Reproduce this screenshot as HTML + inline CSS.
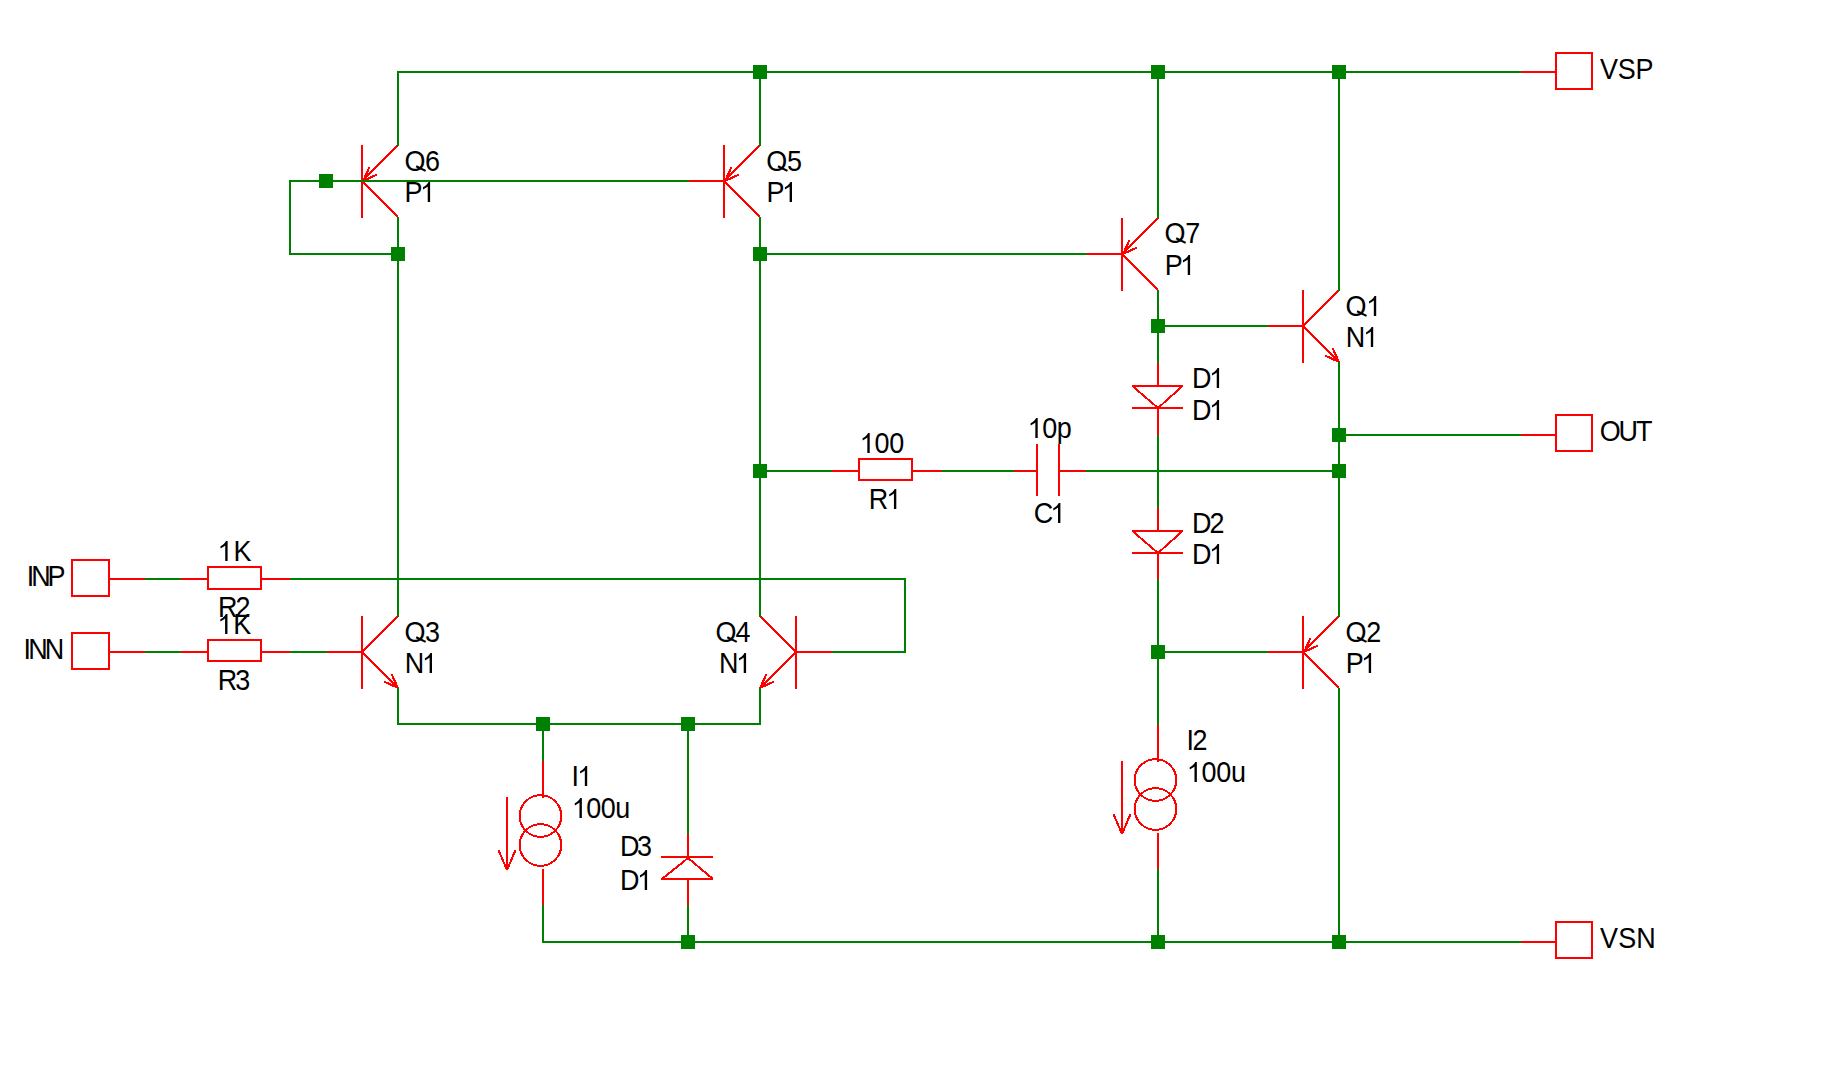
<!DOCTYPE html>
<html><head><meta charset="utf-8"><style>
html,body{margin:0;padding:0;background:#fff;width:1824px;height:1067px;overflow:hidden}
svg{position:absolute;left:0;top:0;display:block}
text{font-family:"Liberation Sans",sans-serif;font-size:29.0px;fill:#000}
</style></head><body>
<svg width="1824" height="1067" viewBox="0 0 1824 1067">
<rect x="0" y="0" width="1824" height="1067" fill="#fff"/>
<g shape-rendering="crispEdges">
<rect x="361" y="145" width="2" height="73" fill="#ff0000"/>
<line x1="362" y1="181" x2="398" y2="145" stroke="#ff0000" stroke-width="2"/>
<line x1="362" y1="181" x2="398" y2="217" stroke="#ff0000" stroke-width="2"/>
<line x1="363" y1="181" x2="369.34" y2="167.41" stroke="#ff0000" stroke-width="2"/>
<line x1="363" y1="181" x2="376.59" y2="174.66" stroke="#ff0000" stroke-width="2"/>
<rect x="723" y="145" width="2" height="73" fill="#ff0000"/>
<line x1="724" y1="181" x2="760" y2="145" stroke="#ff0000" stroke-width="2"/>
<line x1="724" y1="181" x2="760" y2="217" stroke="#ff0000" stroke-width="2"/>
<line x1="725" y1="181" x2="731.34" y2="167.41" stroke="#ff0000" stroke-width="2"/>
<line x1="725" y1="181" x2="738.59" y2="174.66" stroke="#ff0000" stroke-width="2"/>
<rect x="1121" y="218" width="2" height="73" fill="#ff0000"/>
<line x1="1122" y1="254" x2="1158" y2="218" stroke="#ff0000" stroke-width="2"/>
<line x1="1122" y1="254" x2="1158" y2="290" stroke="#ff0000" stroke-width="2"/>
<line x1="1123" y1="254" x2="1129.34" y2="240.41" stroke="#ff0000" stroke-width="2"/>
<line x1="1123" y1="254" x2="1136.59" y2="247.66" stroke="#ff0000" stroke-width="2"/>
<rect x="1302" y="290" width="2" height="73" fill="#ff0000"/>
<line x1="1303" y1="326" x2="1339" y2="290" stroke="#ff0000" stroke-width="2"/>
<line x1="1303" y1="326" x2="1339" y2="362" stroke="#ff0000" stroke-width="2"/>
<line x1="1339" y1="362" x2="1325.41" y2="355.66" stroke="#ff0000" stroke-width="2"/>
<line x1="1339" y1="362" x2="1332.66" y2="348.41" stroke="#ff0000" stroke-width="2"/>
<rect x="1302" y="616" width="2" height="73" fill="#ff0000"/>
<line x1="1303" y1="652" x2="1339" y2="616" stroke="#ff0000" stroke-width="2"/>
<line x1="1303" y1="652" x2="1339" y2="688" stroke="#ff0000" stroke-width="2"/>
<line x1="1304" y1="652" x2="1310.34" y2="638.41" stroke="#ff0000" stroke-width="2"/>
<line x1="1304" y1="652" x2="1317.59" y2="645.66" stroke="#ff0000" stroke-width="2"/>
<rect x="361" y="616" width="2" height="73" fill="#ff0000"/>
<line x1="362" y1="652" x2="398" y2="616" stroke="#ff0000" stroke-width="2"/>
<line x1="362" y1="652" x2="398" y2="688" stroke="#ff0000" stroke-width="2"/>
<line x1="398" y1="688" x2="384.41" y2="681.66" stroke="#ff0000" stroke-width="2"/>
<line x1="398" y1="688" x2="391.66" y2="674.41" stroke="#ff0000" stroke-width="2"/>
<rect x="795" y="616" width="2" height="73" fill="#ff0000"/>
<line x1="796" y1="652" x2="760" y2="616" stroke="#ff0000" stroke-width="2"/>
<line x1="796" y1="652" x2="760" y2="688" stroke="#ff0000" stroke-width="2"/>
<line x1="760" y1="688" x2="766.34" y2="674.41" stroke="#ff0000" stroke-width="2"/>
<line x1="760" y1="688" x2="773.59" y2="681.66" stroke="#ff0000" stroke-width="2"/>
<rect x="689" y="180" width="34" height="2" fill="#ff0000"/>
<rect x="1087" y="253" width="34" height="2" fill="#ff0000"/>
<rect x="1268" y="325" width="34" height="2" fill="#ff0000"/>
<rect x="1268" y="651" width="34" height="2" fill="#ff0000"/>
<rect x="327" y="651" width="34" height="2" fill="#ff0000"/>
<rect x="797" y="651" width="35" height="2" fill="#ff0000"/>
<rect x="1157" y="363" width="2" height="23" fill="#ff0000"/>
<rect x="1132" y="385" width="51" height="2" fill="#ff0000"/>
<line x1="1133" y1="386.5" x2="1158" y2="408" stroke="#ff0000" stroke-width="2"/>
<line x1="1182" y1="386.5" x2="1158" y2="408" stroke="#ff0000" stroke-width="2"/>
<rect x="1132" y="407" width="51" height="2" fill="#ff0000"/>
<rect x="1157" y="409" width="2" height="26" fill="#ff0000"/>
<rect x="1157" y="508" width="2" height="23" fill="#ff0000"/>
<rect x="1132" y="530" width="51" height="2" fill="#ff0000"/>
<line x1="1133" y1="531.5" x2="1158" y2="553" stroke="#ff0000" stroke-width="2"/>
<line x1="1182" y1="531.5" x2="1158" y2="553" stroke="#ff0000" stroke-width="2"/>
<rect x="1132" y="552" width="51" height="2" fill="#ff0000"/>
<rect x="1157" y="554" width="2" height="26" fill="#ff0000"/>
<rect x="687" y="834" width="2" height="23" fill="#ff0000"/>
<rect x="661" y="856" width="52" height="2" fill="#ff0000"/>
<line x1="688" y1="858" x2="662" y2="879" stroke="#ff0000" stroke-width="2"/>
<line x1="688" y1="858" x2="713" y2="879" stroke="#ff0000" stroke-width="2"/>
<rect x="661" y="878" width="52" height="2" fill="#ff0000"/>
<rect x="687" y="880" width="2" height="25" fill="#ff0000"/>
<rect x="542" y="761" width="2" height="37" fill="#ff0000"/>
<circle cx="540.5" cy="816" r="20.8" fill="none" stroke="#ff0000" stroke-width="2"/>
<circle cx="540.5" cy="845" r="20.8" fill="none" stroke="#ff0000" stroke-width="2"/>
<rect x="542" y="869" width="2" height="36" fill="#ff0000"/>
<rect x="506" y="797" width="2" height="73" fill="#ff0000"/>
<line x1="507" y1="870" x2="498.5" y2="850" stroke="#ff0000" stroke-width="2"/>
<line x1="507" y1="870" x2="515.5" y2="850" stroke="#ff0000" stroke-width="2"/>
<rect x="1157" y="725" width="2" height="37" fill="#ff0000"/>
<circle cx="1155.5" cy="780" r="20.8" fill="none" stroke="#ff0000" stroke-width="2"/>
<circle cx="1155.5" cy="809" r="20.8" fill="none" stroke="#ff0000" stroke-width="2"/>
<rect x="1157" y="833" width="2" height="36" fill="#ff0000"/>
<rect x="1121" y="761" width="2" height="73" fill="#ff0000"/>
<line x1="1122" y1="834" x2="1113.5" y2="814" stroke="#ff0000" stroke-width="2"/>
<line x1="1122" y1="834" x2="1130.5" y2="814" stroke="#ff0000" stroke-width="2"/>
<rect x="181" y="578" width="26" height="2" fill="#ff0000"/>
<rect x="207" y="566" width="2" height="24" fill="#ff0000"/>
<rect x="260" y="566" width="2" height="24" fill="#ff0000"/>
<rect x="207" y="566" width="55" height="2" fill="#ff0000"/>
<rect x="207" y="588" width="55" height="2" fill="#ff0000"/>
<rect x="262" y="578" width="28" height="2" fill="#ff0000"/>
<rect x="181" y="651" width="26" height="2" fill="#ff0000"/>
<rect x="207" y="639" width="2" height="23" fill="#ff0000"/>
<rect x="260" y="639" width="2" height="23" fill="#ff0000"/>
<rect x="207" y="639" width="55" height="2" fill="#ff0000"/>
<rect x="207" y="660" width="55" height="2" fill="#ff0000"/>
<rect x="262" y="651" width="28" height="2" fill="#ff0000"/>
<rect x="832" y="470" width="26" height="2" fill="#ff0000"/>
<rect x="858" y="458" width="2" height="23" fill="#ff0000"/>
<rect x="911" y="458" width="2" height="23" fill="#ff0000"/>
<rect x="858" y="458" width="55" height="2" fill="#ff0000"/>
<rect x="858" y="479" width="55" height="2" fill="#ff0000"/>
<rect x="913" y="470" width="29" height="2" fill="#ff0000"/>
<rect x="1014" y="470" width="22" height="2" fill="#ff0000"/>
<rect x="1036" y="444" width="2" height="52" fill="#ff0000"/>
<rect x="1058" y="444" width="2" height="52" fill="#ff0000"/>
<rect x="1060" y="470" width="26" height="2" fill="#ff0000"/>
<rect x="71" y="559" width="2" height="38" fill="#ff0000"/>
<rect x="108" y="559" width="2" height="38" fill="#ff0000"/>
<rect x="71" y="559" width="39" height="2" fill="#ff0000"/>
<rect x="71" y="595" width="39" height="2" fill="#ff0000"/>
<rect x="71" y="632" width="2" height="38" fill="#ff0000"/>
<rect x="108" y="632" width="2" height="38" fill="#ff0000"/>
<rect x="71" y="632" width="39" height="2" fill="#ff0000"/>
<rect x="71" y="668" width="39" height="2" fill="#ff0000"/>
<rect x="110" y="578" width="35" height="2" fill="#ff0000"/>
<rect x="110" y="651" width="35" height="2" fill="#ff0000"/>
<rect x="1555" y="52" width="2" height="38" fill="#ff0000"/>
<rect x="1591" y="52" width="2" height="38" fill="#ff0000"/>
<rect x="1555" y="52" width="38" height="2" fill="#ff0000"/>
<rect x="1555" y="88" width="38" height="2" fill="#ff0000"/>
<rect x="1555" y="414" width="2" height="38" fill="#ff0000"/>
<rect x="1591" y="414" width="2" height="38" fill="#ff0000"/>
<rect x="1555" y="414" width="38" height="2" fill="#ff0000"/>
<rect x="1555" y="450" width="38" height="2" fill="#ff0000"/>
<rect x="1555" y="921" width="2" height="38" fill="#ff0000"/>
<rect x="1591" y="921" width="2" height="38" fill="#ff0000"/>
<rect x="1555" y="921" width="38" height="2" fill="#ff0000"/>
<rect x="1555" y="957" width="38" height="2" fill="#ff0000"/>
<rect x="1521" y="71" width="34" height="2" fill="#ff0000"/>
<rect x="1521" y="434" width="34" height="2" fill="#ff0000"/>
<rect x="1521" y="941" width="34" height="2" fill="#ff0000"/>
<rect x="397" y="71" width="1124" height="2" fill="#008000"/>
<rect x="289" y="180" width="400" height="2" fill="#008000"/>
<rect x="289" y="180" width="2" height="75" fill="#008000"/>
<rect x="289" y="253" width="110" height="2" fill="#008000"/>
<rect x="759" y="253" width="328" height="2" fill="#008000"/>
<rect x="1157" y="325" width="111" height="2" fill="#008000"/>
<rect x="759" y="470" width="73" height="2" fill="#008000"/>
<rect x="942" y="470" width="72" height="2" fill="#008000"/>
<rect x="1086" y="470" width="254" height="2" fill="#008000"/>
<rect x="1338" y="434" width="183" height="2" fill="#008000"/>
<rect x="1157" y="651" width="111" height="2" fill="#008000"/>
<rect x="542" y="941" width="979" height="2" fill="#008000"/>
<rect x="397" y="723" width="364" height="2" fill="#008000"/>
<rect x="145" y="578" width="36" height="2" fill="#008000"/>
<rect x="290" y="578" width="616" height="2" fill="#008000"/>
<rect x="832" y="651" width="74" height="2" fill="#008000"/>
<rect x="145" y="651" width="36" height="2" fill="#008000"/>
<rect x="290" y="651" width="37" height="2" fill="#008000"/>
<rect x="397" y="71" width="2" height="75" fill="#008000"/>
<rect x="397" y="217" width="2" height="400" fill="#008000"/>
<rect x="397" y="688" width="2" height="37" fill="#008000"/>
<rect x="759" y="71" width="2" height="75" fill="#008000"/>
<rect x="759" y="217" width="2" height="400" fill="#008000"/>
<rect x="759" y="688" width="2" height="37" fill="#008000"/>
<rect x="1157" y="71" width="2" height="147" fill="#008000"/>
<rect x="1157" y="290" width="2" height="73" fill="#008000"/>
<rect x="1157" y="435" width="2" height="73" fill="#008000"/>
<rect x="1157" y="579" width="2" height="146" fill="#008000"/>
<rect x="1157" y="869" width="2" height="74" fill="#008000"/>
<rect x="1338" y="71" width="2" height="220" fill="#008000"/>
<rect x="1338" y="362" width="2" height="255" fill="#008000"/>
<rect x="1338" y="688" width="2" height="255" fill="#008000"/>
<rect x="904" y="578" width="2" height="75" fill="#008000"/>
<rect x="542" y="723" width="2" height="38" fill="#008000"/>
<rect x="542" y="905" width="2" height="38" fill="#008000"/>
<rect x="687" y="723" width="2" height="111" fill="#008000"/>
<rect x="687" y="905" width="2" height="38" fill="#008000"/>
<rect x="753" y="65" width="14" height="14" fill="#008000"/>
<rect x="1151" y="65" width="14" height="14" fill="#008000"/>
<rect x="1332" y="65" width="14" height="14" fill="#008000"/>
<rect x="319" y="174" width="14" height="14" fill="#008000"/>
<rect x="391" y="247" width="14" height="14" fill="#008000"/>
<rect x="753" y="247" width="14" height="14" fill="#008000"/>
<rect x="1151" y="319" width="14" height="14" fill="#008000"/>
<rect x="1332" y="428" width="14" height="14" fill="#008000"/>
<rect x="753" y="464" width="14" height="14" fill="#008000"/>
<rect x="1332" y="464" width="14" height="14" fill="#008000"/>
<rect x="1151" y="645" width="14" height="14" fill="#008000"/>
<rect x="536" y="717" width="14" height="14" fill="#008000"/>
<rect x="681" y="717" width="14" height="14" fill="#008000"/>
<rect x="681" y="935" width="14" height="14" fill="#008000"/>
<rect x="1151" y="935" width="14" height="14" fill="#008000"/>
<rect x="1332" y="935" width="14" height="14" fill="#008000"/>
<g fill="#000" shape-rendering="geometricPrecision"><text transform="translate(404.52,171) scale(0.93,1)">O</text><path transform="translate(404.52,171) scale(0.01317,-0.01416)" d="M850 270 L920 400 L1640 70 L1570 -60 Z"/><text transform="translate(424.89,171) scale(0.93,1)">6</text></g>
<g fill="#000" shape-rendering="geometricPrecision"><text transform="translate(404.49,202) scale(0.93,1)">P</text><path transform="translate(420.05,202) scale(0.01317,-0.01416)" d="M763 0 L583 0 L583 1100 Q520 1040 420 980 Q320 920 223 877 L223 1045 Q360 1110 470 1200 Q590 1300 640 1409 L763 1409 Z"/></g>
<g fill="#000" shape-rendering="geometricPrecision"><text transform="translate(766.32,171) scale(0.93,1)">O</text><path transform="translate(766.32,171) scale(0.01317,-0.01416)" d="M850 270 L920 400 L1640 70 L1570 -60 Z"/><text transform="translate(786.93,171) scale(0.93,1)">5</text></g>
<g fill="#000" shape-rendering="geometricPrecision"><text transform="translate(766.59,202) scale(0.93,1)">P</text><path transform="translate(781.95,202) scale(0.01317,-0.01416)" d="M763 0 L583 0 L583 1100 Q520 1040 420 980 Q320 920 223 877 L223 1045 Q360 1110 470 1200 Q590 1300 640 1409 L763 1409 Z"/></g>
<g fill="#000" shape-rendering="geometricPrecision"><text transform="translate(1164.52,243) scale(0.93,1)">O</text><path transform="translate(1164.52,243) scale(0.01317,-0.01416)" d="M850 270 L920 400 L1640 70 L1570 -60 Z"/><text transform="translate(1185.36,243) scale(0.93,1)">7</text></g>
<g fill="#000" shape-rendering="geometricPrecision"><text transform="translate(1164.79,275) scale(0.93,1)">P</text><path transform="translate(1180.05,275) scale(0.01317,-0.01416)" d="M763 0 L583 0 L583 1100 Q520 1040 420 980 Q320 920 223 877 L223 1045 Q360 1110 470 1200 Q590 1300 640 1409 L763 1409 Z"/></g>
<g fill="#000" shape-rendering="geometricPrecision"><text transform="translate(1345.42,316) scale(0.93,1)">O</text><path transform="translate(1345.42,316) scale(0.01317,-0.01416)" d="M850 270 L920 400 L1640 70 L1570 -60 Z"/><path transform="translate(1366.15,316) scale(0.01317,-0.01416)" d="M763 0 L583 0 L583 1100 Q520 1040 420 980 Q320 920 223 877 L223 1045 Q360 1110 470 1200 Q590 1300 640 1409 L763 1409 Z"/></g>
<g fill="#000" shape-rendering="geometricPrecision"><text transform="translate(1345.69,347) scale(0.93,1)">N</text><path transform="translate(1363.15,347) scale(0.01317,-0.01416)" d="M763 0 L583 0 L583 1100 Q520 1040 420 980 Q320 920 223 877 L223 1045 Q360 1110 470 1200 Q590 1300 640 1409 L763 1409 Z"/></g>
<g fill="#000" shape-rendering="geometricPrecision"><text transform="translate(1345.42,642) scale(0.93,1)">O</text><path transform="translate(1345.42,642) scale(0.01317,-0.01416)" d="M850 270 L920 400 L1640 70 L1570 -60 Z"/><text transform="translate(1366.26,642) scale(0.93,1)">2</text></g>
<g fill="#000" shape-rendering="geometricPrecision"><text transform="translate(1345.69,673) scale(0.93,1)">P</text><path transform="translate(1361.05,673) scale(0.01317,-0.01416)" d="M763 0 L583 0 L583 1100 Q520 1040 420 980 Q320 920 223 877 L223 1045 Q360 1110 470 1200 Q590 1300 640 1409 L763 1409 Z"/></g>
<g fill="#000" shape-rendering="geometricPrecision"><text transform="translate(404.52,642) scale(0.93,1)">O</text><path transform="translate(404.52,642) scale(0.01317,-0.01416)" d="M850 270 L920 400 L1640 70 L1570 -60 Z"/><text transform="translate(424.89,642) scale(0.93,1)">3</text></g>
<g fill="#000" shape-rendering="geometricPrecision"><text transform="translate(404.79,673) scale(0.93,1)">N</text><path transform="translate(421.95,673) scale(0.01317,-0.01416)" d="M763 0 L583 0 L583 1100 Q520 1040 420 980 Q320 920 223 877 L223 1045 Q360 1110 470 1200 Q590 1300 640 1409 L763 1409 Z"/></g>
<g fill="#000" shape-rendering="geometricPrecision"><text transform="translate(715.62,642) scale(0.93,1)">O</text><path transform="translate(715.62,642) scale(0.01317,-0.01416)" d="M850 270 L920 400 L1640 70 L1570 -60 Z"/><text transform="translate(735.59,642) scale(0.93,1)">4</text></g>
<g fill="#000" shape-rendering="geometricPrecision"><text transform="translate(718.89,673) scale(0.93,1)">N</text><path transform="translate(736.05,673) scale(0.01317,-0.01416)" d="M763 0 L583 0 L583 1100 Q520 1040 420 980 Q320 920 223 877 L223 1045 Q360 1110 470 1200 Q590 1300 640 1409 L763 1409 Z"/></g>
<g fill="#000" shape-rendering="geometricPrecision"><text transform="translate(1191.89,388) scale(0.93,1)">D</text><path transform="translate(1209.05,388) scale(0.01317,-0.01416)" d="M763 0 L583 0 L583 1100 Q520 1040 420 980 Q320 920 223 877 L223 1045 Q360 1110 470 1200 Q590 1300 640 1409 L763 1409 Z"/></g>
<g fill="#000" shape-rendering="geometricPrecision"><text transform="translate(1191.89,420) scale(0.93,1)">D</text><path transform="translate(1209.05,420) scale(0.01317,-0.01416)" d="M763 0 L583 0 L583 1100 Q520 1040 420 980 Q320 920 223 877 L223 1045 Q360 1110 470 1200 Q590 1300 640 1409 L763 1409 Z"/></g>
<g fill="#000" shape-rendering="geometricPrecision"><text transform="translate(1191.89,533) scale(0.93,1)">D</text><text transform="translate(1209.46,533) scale(0.93,1)">2</text></g>
<g fill="#000" shape-rendering="geometricPrecision"><text transform="translate(1191.89,564) scale(0.93,1)">D</text><path transform="translate(1209.05,564) scale(0.01317,-0.01416)" d="M763 0 L583 0 L583 1100 Q520 1040 420 980 Q320 920 223 877 L223 1045 Q360 1110 470 1200 Q590 1300 640 1409 L763 1409 Z"/></g>
<g fill="#000" shape-rendering="geometricPrecision"><text transform="translate(619.99,856) scale(0.93,1)">D</text><text transform="translate(636.99,856) scale(0.93,1)">3</text></g>
<g fill="#000" shape-rendering="geometricPrecision"><text transform="translate(619.99,890) scale(0.93,1)">D</text><path transform="translate(637.05,890) scale(0.01317,-0.01416)" d="M763 0 L583 0 L583 1100 Q520 1040 420 980 Q320 920 223 877 L223 1045 Q360 1110 470 1200 Q590 1300 640 1409 L763 1409 Z"/></g>
<g fill="#000" shape-rendering="geometricPrecision"><path transform="translate(859.66,453) scale(0.01317,-0.01416)" d="M763 0 L583 0 L583 1100 Q520 1040 420 980 Q320 920 223 877 L223 1045 Q360 1110 470 1200 Q590 1300 640 1409 L763 1409 Z"/><text transform="translate(874.41,453) scale(0.93,1)">0</text><text transform="translate(889.15,453) scale(0.93,1)">0</text></g>
<g fill="#000" shape-rendering="geometricPrecision"><text transform="translate(868.79,509) scale(0.93,1)">R</text><path transform="translate(886.25,509) scale(0.01317,-0.01416)" d="M763 0 L583 0 L583 1100 Q520 1040 420 980 Q320 920 223 877 L223 1045 Q360 1110 470 1200 Q590 1300 640 1409 L763 1409 Z"/></g>
<g fill="#000" shape-rendering="geometricPrecision"><path transform="translate(217.56,561) scale(0.01317,-0.01416)" d="M763 0 L583 0 L583 1100 Q520 1040 420 980 Q320 920 223 877 L223 1045 Q360 1110 470 1200 Q590 1300 640 1409 L763 1409 Z"/><text transform="translate(233.61,561) scale(0.93,1)">K</text></g>
<g fill="#000" shape-rendering="geometricPrecision"><text transform="translate(217.89,617) scale(0.93,1)">R</text><text transform="translate(235.56,617) scale(0.93,1)">2</text></g>
<g fill="#000" shape-rendering="geometricPrecision"><path transform="translate(217.41,634) scale(0.01317,-0.01416)" d="M763 0 L583 0 L583 1100 Q520 1040 420 980 Q320 920 223 877 L223 1045 Q360 1110 470 1200 Q590 1300 640 1409 L763 1409 Z"/><text transform="translate(233.31,634) scale(0.93,1)">K</text></g>
<g fill="#000" shape-rendering="geometricPrecision"><text transform="translate(217.79,690) scale(0.93,1)">R</text><text transform="translate(235.19,690) scale(0.93,1)">3</text></g>
<g fill="#000" shape-rendering="geometricPrecision"><path transform="translate(1027.66,438) scale(0.01317,-0.01416)" d="M763 0 L583 0 L583 1100 Q520 1040 420 980 Q320 920 223 877 L223 1045 Q360 1110 470 1200 Q590 1300 640 1409 L763 1409 Z"/><text transform="translate(1042.20,438) scale(0.93,1)">0</text><text transform="translate(1056.73,438) scale(0.93,1)">p</text></g>
<g fill="#000" shape-rendering="geometricPrecision"><text transform="translate(1033.73,523) scale(0.93,1)">C</text><path transform="translate(1050.35,523) scale(0.01317,-0.01416)" d="M763 0 L583 0 L583 1100 Q520 1040 420 980 Q320 920 223 877 L223 1045 Q360 1110 470 1200 Q590 1300 640 1409 L763 1409 Z"/></g>
<g fill="#000" shape-rendering="geometricPrecision"><text transform="translate(571.61,786) scale(0.93,1)">I</text><path transform="translate(577.15,786) scale(0.01317,-0.01416)" d="M763 0 L583 0 L583 1100 Q520 1040 420 980 Q320 920 223 877 L223 1045 Q360 1110 470 1200 Q590 1300 640 1409 L763 1409 Z"/></g>
<g fill="#000" shape-rendering="geometricPrecision"><path transform="translate(571.81,818) scale(0.01317,-0.01416)" d="M763 0 L583 0 L583 1100 Q520 1040 420 980 Q320 920 223 877 L223 1045 Q360 1110 470 1200 Q590 1300 640 1409 L763 1409 Z"/><text transform="translate(586.27,818) scale(0.93,1)">0</text><text transform="translate(600.73,818) scale(0.93,1)">0</text><text transform="translate(615.19,818) scale(0.93,1)">u</text></g>
<g fill="#000" shape-rendering="geometricPrecision"><text transform="translate(1186.61,750) scale(0.93,1)">I</text><text transform="translate(1192.56,750) scale(0.93,1)">2</text></g>
<g fill="#000" shape-rendering="geometricPrecision"><path transform="translate(1186.81,782) scale(0.01317,-0.01416)" d="M763 0 L583 0 L583 1100 Q520 1040 420 980 Q320 920 223 877 L223 1045 Q360 1110 470 1200 Q590 1300 640 1409 L763 1409 Z"/><text transform="translate(1201.57,782) scale(0.93,1)">0</text><text transform="translate(1216.33,782) scale(0.93,1)">0</text><text transform="translate(1231.09,782) scale(0.93,1)">u</text></g>
<g fill="#000" shape-rendering="geometricPrecision"><text transform="translate(26.86,586) scale(0.93,1)">I</text><text transform="translate(31.21,586) scale(0.93,1)">N</text><text transform="translate(47.53,586) scale(0.93,1)">P</text></g>
<g fill="#000" shape-rendering="geometricPrecision"><text transform="translate(23.58,659) scale(0.93,1)">I</text><text transform="translate(28.16,659) scale(0.93,1)">N</text><text transform="translate(44.72,659) scale(0.93,1)">N</text></g>
<g fill="#000" shape-rendering="geometricPrecision"><text transform="translate(1600.08,79) scale(0.93,1)">V</text><text transform="translate(1617.76,79) scale(0.93,1)">S</text><text transform="translate(1635.43,79) scale(0.93,1)">P</text></g>
<g fill="#000" shape-rendering="geometricPrecision"><text transform="translate(1599.72,441) scale(0.93,1)">O</text><text transform="translate(1618.58,441) scale(0.93,1)">U</text><text transform="translate(1635.94,441) scale(0.93,1)">T</text></g>
<g fill="#000" shape-rendering="geometricPrecision"><text transform="translate(1600.08,948) scale(0.93,1)">V</text><text transform="translate(1618.15,948) scale(0.93,1)">S</text><text transform="translate(1636.22,948) scale(0.93,1)">N</text></g>
</g>
</svg>
</body></html>
